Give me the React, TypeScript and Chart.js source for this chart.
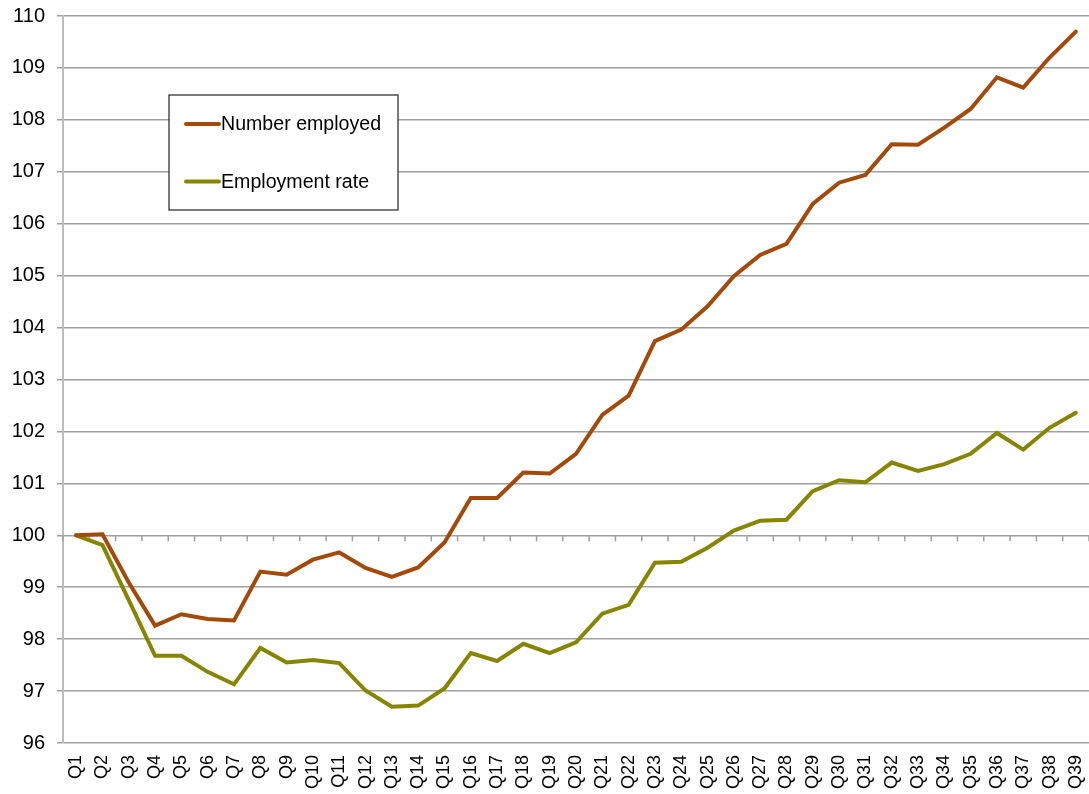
import React, { useEffect, useRef } from "react";
import { Chart, registerables } from "chart.js";

Chart.register(...registerables);

const categories: string[] = [
  "Q1", "Q2", "Q3", "Q4", "Q5", "Q6", "Q7", "Q8", "Q9", "Q10",
  "Q11", "Q12", "Q13", "Q14", "Q15", "Q16", "Q17", "Q18", "Q19", "Q20",
  "Q21", "Q22", "Q23", "Q24", "Q25", "Q26", "Q27", "Q28", "Q29", "Q30",
  "Q31", "Q32", "Q33", "Q34", "Q35", "Q36", "Q37", "Q38", "Q39",
];

const numberEmployed: number[] = [
  100.0, 100.02, 99.09, 98.26, 98.48, 98.39, 98.36, 99.3, 99.24, 99.53,
  99.67, 99.37, 99.2, 99.38, 99.86, 100.72, 100.72, 101.21, 101.19, 101.57,
  102.32, 102.69, 103.74, 103.96, 104.41, 104.99, 105.4, 105.61, 106.38, 106.79,
  106.94, 107.53, 107.52, 107.85, 108.21, 108.82, 108.62, 109.2, 109.7,
];

const employmentRate: number[] = [
  100.0, 99.81, 98.75, 97.68, 97.68, 97.37, 97.13, 97.83, 97.55, 97.6,
  97.54, 97.01, 96.7, 96.72, 97.05, 97.73, 97.58, 97.91, 97.73, 97.94,
  98.49, 98.66, 99.47, 99.49, 99.76, 100.09, 100.28, 100.3, 100.85, 101.06,
  101.02, 101.4, 101.24, 101.37, 101.57, 101.97, 101.65, 102.07, 102.36,
];

const seriesNames: string[] = ["Number employed", "Employment rate"];
const seriesColors: string[] = ["#A34A0A", "#858500"];

const yMin = 96;
const yMax = 110;
const yStep = 1;
const crossValue = 100;

const FONT = "'Liberation Sans', Arial, Helvetica, sans-serif";

const crossTicksPlugin = {
  id: "crossTicks",
  beforeDatasetsDraw(chart: any) {
    const x = chart.scales.x;
    const y = chart.scales.y;
    const yy = y.getPixelForValue(crossValue);
    const n = categories.length;
    const ctx = chart.ctx;
    ctx.save();
    ctx.strokeStyle = "#a0a0a0";
    ctx.lineWidth = 1.5;
    for (let i = 0; i <= n; i++) {
      let px: number;
      if (i === 0) px = chart.chartArea.left;
      else if (i === n) px = chart.chartArea.right;
      else px = (x.getPixelForValue(i - 1) + x.getPixelForValue(i)) / 2;
      ctx.beginPath();
      ctx.moveTo(px, yy);
      ctx.lineTo(px, yy + 6);
      ctx.stroke();
    }
    ctx.restore();
  },
};

const boxLegendPlugin = {
  id: "boxLegend",
  afterDraw(chart: any) {
    const ctx = chart.ctx;
    const area = chart.chartArea;
    const bx = area.left + 106;
    const by = area.top + 79;
    const bw = 229;
    const bh = 115;
    ctx.save();
    ctx.fillStyle = "#ffffff";
    ctx.fillRect(bx, by, bw, bh);
    ctx.strokeStyle = "#333333";
    ctx.lineWidth = 1.3;
    ctx.strokeRect(bx, by, bw, bh);
    chart.data.datasets.forEach((ds: any, i: number) => {
      const cy = by + 29 + i * 57.5;
      ctx.strokeStyle = ds.borderColor;
      ctx.lineWidth = 4;
      ctx.lineCap = "round";
      ctx.beginPath();
      ctx.moveTo(bx + 17, cy);
      ctx.lineTo(bx + 50, cy);
      ctx.stroke();
      ctx.fillStyle = "#000000";
      ctx.font = `19.6px ${FONT}`;
      ctx.textBaseline = "middle";
      ctx.textAlign = "left";
      ctx.fillText(ds.label, bx + 52, cy + 1);
    });
    ctx.restore();
  },
};

export default function App() {
  const canvasRef = useRef<HTMLCanvasElement | null>(null);

  useEffect(() => {
    const canvas = canvasRef.current;
    if (!canvas) return;
    const chart = new Chart(canvas, {
      type: "line",
      data: {
        labels: categories,
        datasets: [
          {
            label: seriesNames[0],
            data: numberEmployed,
            borderColor: seriesColors[0],
            backgroundColor: seriesColors[0],
            borderWidth: 4,
            pointRadius: 0,
            tension: 0,
            fill: false,
            borderCapStyle: "round",
            borderJoinStyle: "miter",
          },
          {
            label: seriesNames[1],
            data: employmentRate,
            borderColor: seriesColors[1],
            backgroundColor: seriesColors[1],
            borderWidth: 4,
            pointRadius: 0,
            tension: 0,
            fill: false,
            borderCapStyle: "round",
            borderJoinStyle: "miter",
          },
        ],
      },
      options: {
        responsive: false,
        animation: false,
        layout: { padding: { top: 16, right: 0, left: 0, bottom: 0 } },
        plugins: {
          legend: { display: false },
          tooltip: { enabled: false },
          title: { display: false },
        },
        scales: {
          x: {
            type: "category",
            offset: true,
            grid: { display: false, drawTicks: false },
            border: { display: false },
            ticks: {
              autoSkip: false,
              minRotation: 90,
              maxRotation: 90,
              padding: 12,
              color: "#000000",
              font: { family: FONT, size: 18 },
            },
            afterFit(scale: any) {
              scale.height = 51;
              scale.paddingLeft = 0;
              scale.paddingRight = 0;
            },
          },
          y: {
            min: yMin,
            max: yMax,
            ticks: {
              stepSize: yStep,
              padding: 12,
              color: "#000000",
              font: { family: FONT, size: 20 },
            },
            grid: {
              color: "#a0a0a0",
              lineWidth: 1.5,
              tickLength: 6,
              drawTicks: true,
            },
            border: { display: true, color: "#bdbdbd", width: 2 },
            afterFit(scale: any) {
              scale.width = 63;
              scale.paddingTop = 0;
              scale.paddingBottom = 0;
            },
          },
        },
      },
      plugins: [crossTicksPlugin, boxLegendPlugin],
    });
    return () => chart.destroy();
  }, []);

  return (
    <div style={{ position: "fixed", left: 0, top: 0, width: 1089, height: 794, background: "#ffffff" }}>
      <canvas ref={canvasRef} width={1089} height={794} style={{ display: "block" }} />
    </div>
  );
}
